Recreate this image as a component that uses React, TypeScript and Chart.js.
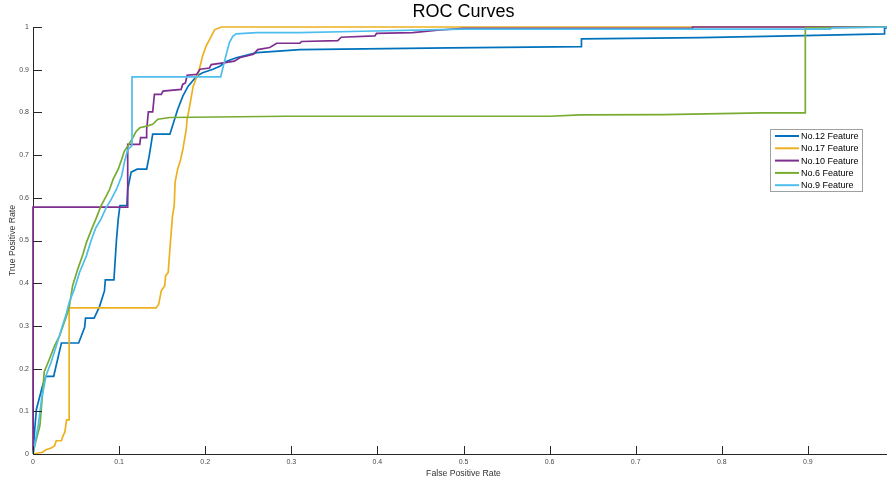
import React, { useEffect, useRef } from 'react';
import { Chart, registerables } from 'chart.js';

Chart.register(...registerables);

const FONT = '"Liberation Sans", Arial, Helvetica, sans-serif';

const chartTitle = 'ROC Curves';
const xAxisTitle = 'False Positive Rate';
const yAxisTitle = 'True Positive Rate';

const seriesLabels = ['No.12 Feature', 'No.17 Feature', 'No.10 Feature', 'No.6 Feature', 'No.9 Feature'];
const seriesColors = ['#0072BD', '#EDB120', '#7E2F8E', '#77AC30', '#4DBEEE'];

// No.12 Feature
const fpr12 = [0, 0.002, 0.004, 0.008, 0.011, 0.015, 0.024, 0.033, 0.053, 0.060, 0.061, 0.071, 0.077, 0.083, 0.084, 0.094, 0.095, 0.097, 0.099, 0.101, 0.109, 0.110, 0.114, 0.121, 0.132, 0.135, 0.139, 0.159, 0.162, 0.168, 0.174, 0.180, 0.190, 0.197, 0.209, 0.217, 0.225, 0.236, 0.260, 0.310, 0.484, 0.637, 0.637, 0.775, 0.895, 0.989, 0.989, 1];
const tpr12 = [0, 0.058, 0.105, 0.136, 0.159, 0.182, 0.182, 0.260, 0.260, 0.297, 0.318, 0.318, 0.344, 0.382, 0.408, 0.408, 0.440, 0.503, 0.550, 0.582, 0.582, 0.620, 0.660, 0.667, 0.667, 0.698, 0.749, 0.749, 0.768, 0.807, 0.838, 0.861, 0.885, 0.893, 0.901, 0.908, 0.920, 0.928, 0.940, 0.947, 0.951, 0.954, 0.972, 0.975, 0.980, 0.984, 0.997, 1];

// No.17 Feature
const fpr17 = [0, 0.011, 0.015, 0.021, 0.025, 0.027, 0.033, 0.035, 0.037, 0.039, 0.042, 0.042, 0.143, 0.146, 0.149, 0.153, 0.154, 0.157, 0.159, 0.162, 0.164, 0.165, 0.168, 0.171, 0.174, 0.178, 0.179, 0.182, 0.186, 0.192, 0.194, 0.197, 0.201, 0.207, 0.211, 0.219, 1];
const tpr17 = [0, 0.004, 0.010, 0.014, 0.019, 0.031, 0.031, 0.043, 0.051, 0.080, 0.080, 0.342, 0.342, 0.351, 0.382, 0.394, 0.417, 0.425, 0.480, 0.557, 0.581, 0.636, 0.667, 0.686, 0.713, 0.760, 0.784, 0.815, 0.861, 0.893, 0.908, 0.932, 0.955, 0.978, 0.994, 1, 1];

// No.10 Feature
const fpr10 = [0, 0, 0.110, 0.110, 0.124, 0.125, 0.132, 0.132, 0.134, 0.139, 0.141, 0.149, 0.151, 0.172, 0.174, 0.177, 0.179, 0.190, 0.194, 0.205, 0.207, 0.221, 0.234, 0.240, 0.256, 0.261, 0.275, 0.283, 0.310, 0.312, 0.354, 0.358, 0.397, 0.399, 0.441, 0.473, 0.500, 0.766, 0.766, 1];
const tpr10 = [0, 0.578, 0.578, 0.725, 0.725, 0.741, 0.741, 0.760, 0.801, 0.801, 0.842, 0.842, 0.850, 0.854, 0.866, 0.869, 0.887, 0.889, 0.901, 0.904, 0.912, 0.916, 0.920, 0.928, 0.936, 0.947, 0.952, 0.962, 0.962, 0.966, 0.968, 0.976, 0.979, 0.985, 0.987, 0.993, 0.997, 0.997, 1, 1];

// No.6 Feature
const fpr6 = [0, 0.002, 0.008, 0.011, 0.013, 0.019, 0.025, 0.031, 0.039, 0.042, 0.046, 0.052, 0.058, 0.062, 0.068, 0.073, 0.079, 0.085, 0.089, 0.093, 0.099, 0.103, 0.106, 0.110, 0.116, 0.120, 0.124, 0.132, 0.139, 0.145, 0.159, 0.294, 0.600, 0.636, 0.732, 0.848, 0.897, 0.897, 1];
const tpr6 = [0, 0.019, 0.066, 0.140, 0.192, 0.222, 0.253, 0.277, 0.324, 0.343, 0.394, 0.433, 0.468, 0.495, 0.526, 0.550, 0.581, 0.604, 0.620, 0.643, 0.667, 0.690, 0.709, 0.721, 0.741, 0.756, 0.764, 0.768, 0.772, 0.784, 0.788, 0.791, 0.791, 0.794, 0.795, 0.799, 0.799, 0.998, 1];

// No.9 Feature
const fpr9 = [0, 0.006, 0.010, 0.013, 0.015, 0.021, 0.027, 0.033, 0.039, 0.042, 0.048, 0.054, 0.062, 0.068, 0.073, 0.079, 0.085, 0.091, 0.097, 0.103, 0.106, 0.110, 0.115, 0.115, 0.218, 0.221, 0.225, 0.228, 0.232, 0.236, 0.260, 0.310, 0.383, 0.499, 0.926, 0.928, 1];
const tpr9 = [0, 0.066, 0.129, 0.160, 0.183, 0.215, 0.253, 0.292, 0.331, 0.355, 0.386, 0.425, 0.464, 0.503, 0.530, 0.550, 0.577, 0.597, 0.620, 0.651, 0.682, 0.713, 0.722, 0.883, 0.883, 0.908, 0.940, 0.963, 0.978, 0.984, 0.987, 0.987, 0.990, 0.995, 0.995, 0.998, 1];

const seriesFpr = [fpr12, fpr17, fpr10, fpr6, fpr9];
const seriesTpr = [tpr12, tpr17, tpr10, tpr6, tpr9];

const axisMin = 0;
const axisMax = 1;
const tickStep = 0.1;

const formatTick = (v: any) => String(Math.round(Number(v) * 10) / 10);

const matlabDecor = {
  id: 'matlabDecor',
  afterDatasetsDraw(chart: any) {
    const { ctx, chartArea, scales } = chart;
    const xs = scales.x;
    const ys = scales.y;
    ctx.save();
    ctx.strokeStyle = '#262626';
    ctx.lineWidth = 1;
    ctx.beginPath();
    xs.ticks.forEach((t: any) => {
      const px = Math.round(xs.getPixelForValue(t.value)) + 0.5;
      ctx.moveTo(px, chartArea.bottom);
      ctx.lineTo(px, chartArea.bottom - 8);
    });
    ys.ticks.forEach((t: any) => {
      const py = Math.round(ys.getPixelForValue(t.value)) + 0.5;
      ctx.moveTo(chartArea.left, py);
      ctx.lineTo(chartArea.left + 9, py);
    });
    ctx.stroke();
    ctx.restore();
  },
  afterDraw(chart: any) {
    const { ctx } = chart;
    const boxX = 770.5;
    const boxY = 129.5;
    const boxW = 92;
    const boxH = 62;
    ctx.save();
    ctx.fillStyle = '#ffffff';
    ctx.fillRect(boxX, boxY, boxW, boxH);
    ctx.strokeStyle = '#a0a0a0';
    ctx.lineWidth = 1;
    ctx.strokeRect(boxX, boxY, boxW, boxH);
    ctx.font = `9px ${FONT}`;
    ctx.textBaseline = 'middle';
    ctx.textAlign = 'left';
    chart.data.datasets.forEach((ds: any, i: number) => {
      const cy = 136 + i * 12.3;
      ctx.strokeStyle = ds.borderColor;
      ctx.lineWidth = 2;
      ctx.beginPath();
      ctx.moveTo(775, cy);
      ctx.lineTo(799, cy);
      ctx.stroke();
      ctx.fillStyle = '#000000';
      ctx.fillText(ds.label, 801, cy + 0.5);
    });
    ctx.restore();
  },
};

export default function App() {
  const canvasRef = useRef<HTMLCanvasElement | null>(null);

  useEffect(() => {
    const canvas = canvasRef.current;
    if (!canvas) return;
    const datasets = seriesLabels.map((label, i) => ({
      label,
      data: seriesFpr[i].map((x, j) => ({ x, y: seriesTpr[i][j] })),
      borderColor: seriesColors[i],
      backgroundColor: seriesColors[i],
      borderWidth: 1.7,
      pointRadius: 0,
      tension: 0,
      fill: false,
      order: seriesLabels.length - i,
      clip: false as any,
    }));
    const chart = new Chart(canvas, {
      type: 'line',
      data: { datasets },
      plugins: [matlabDecor],
      options: {
        animation: false,
        responsive: false,
        devicePixelRatio: 1,
        layout: { padding: { left: 0, right: 6, top: 0, bottom: 0 } },
        plugins: {
          legend: { display: false },
          tooltip: { enabled: false },
          title: {
            display: true,
            text: chartTitle,
            fullSize: false,
            color: '#000000',
            font: { size: 18, family: FONT, weight: 'normal', lineHeight: 1.2 },
            padding: { top: 1.5, bottom: 3.9 },
          },
        },
        scales: {
          x: {
            type: 'linear',
            min: axisMin,
            max: axisMax,
            grid: { display: false, drawTicks: false },
            border: { display: true, color: '#262626', width: 1 },
            ticks: {
              stepSize: tickStep,
              padding: 4,
              color: '#4a4a4a',
              font: { size: 7, family: FONT },
              maxRotation: 0,
              callback: formatTick,
            },
            title: {
              display: true,
              text: xAxisTitle,
              color: '#333333',
              font: { size: 8.7, family: FONT, lineHeight: 1.2 },
              padding: { top: 0, bottom: 2.3 },
            },
            afterFit: (s: any) => { s.height = 27; },
          },
          y: {
            type: 'linear',
            min: axisMin,
            max: axisMax,
            grid: { display: false, drawTicks: false },
            border: { display: true, color: '#262626', width: 1 },
            ticks: {
              stepSize: tickStep,
              padding: 4,
              color: '#4a4a4a',
              font: { size: 7, family: FONT },
              callback: formatTick,
            },
            title: {
              display: true,
              text: yAxisTitle,
              color: '#333333',
              font: { size: 8.7, family: FONT, lineHeight: 1.2 },
              padding: { top: 7.5, bottom: 0 },
            },
            afterFit: (s: any) => { s.width = 33; },
          },
        },
      },
    });
    return () => chart.destroy();
  }, []);

  return (
    <div style={{ position: 'fixed', left: 0, top: 0, width: 887, height: 481, overflow: 'hidden', background: '#ffffff' }}>
      <div style={{ width: 900, height: 481 }}>
        <canvas ref={canvasRef} width={900} height={481} style={{ display: 'block', width: 900, height: 481 }} />
      </div>
    </div>
  );
}
